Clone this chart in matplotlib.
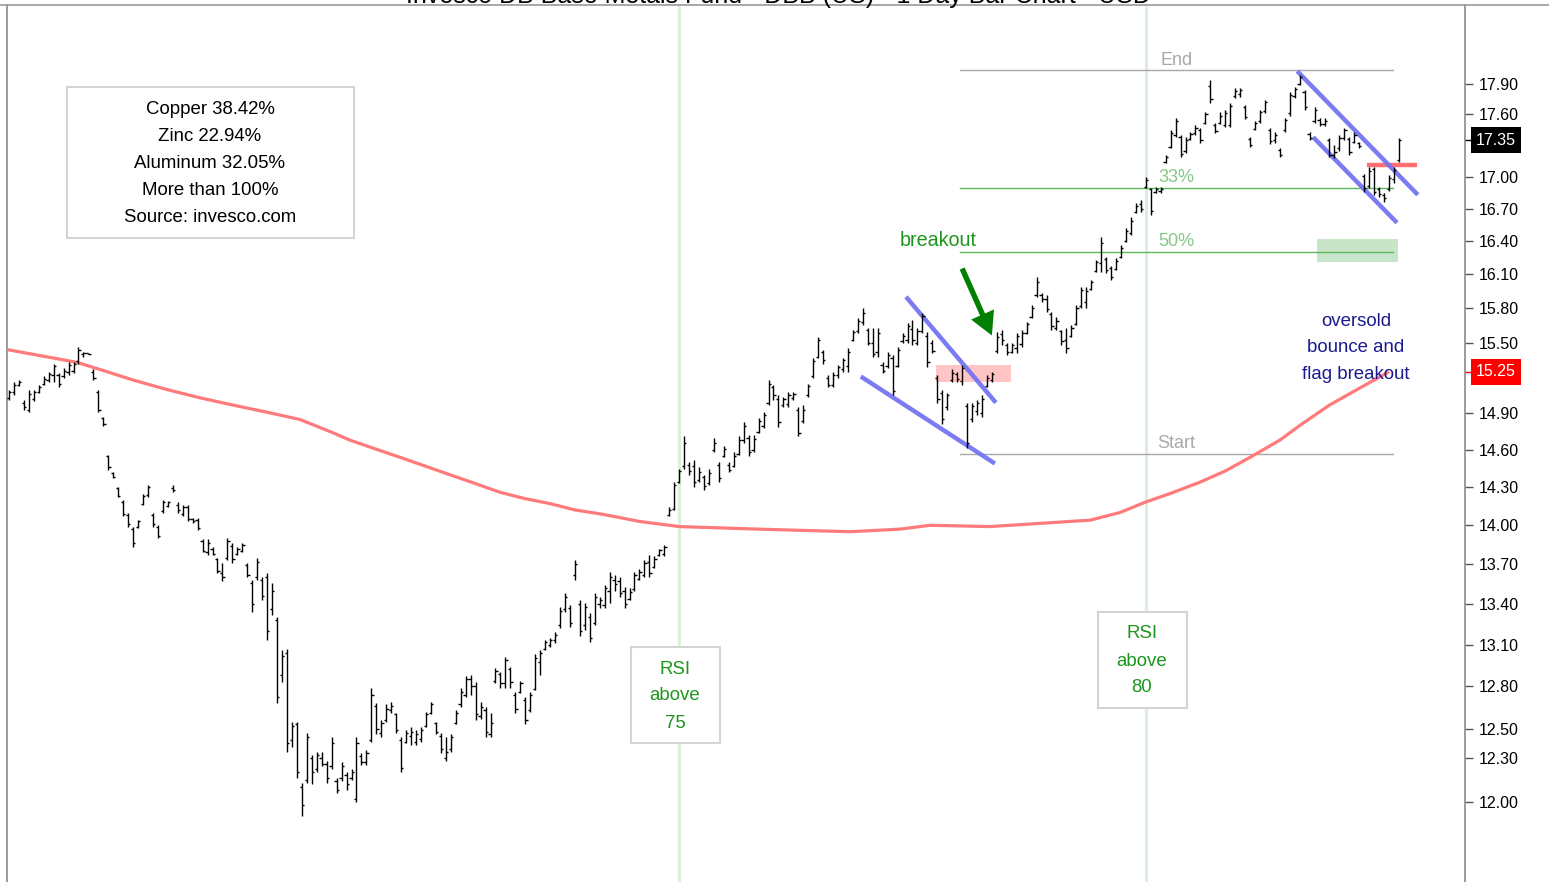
import matplotlib
matplotlib.use("Agg")
import matplotlib.pyplot as plt
from matplotlib.collections import LineCollection
from matplotlib.lines import Line2D
from matplotlib.patches import Rectangle

plt.rcParams["font.family"] = ["Liberation Sans", "DejaVu Sans"]

# daily OHLC for DBB
opens = [
    15.03, 15.08, 15.14, 14.99, 14.93, 15.02, 15.08, 15.15, 15.18, 15.22,
    15.22, 15.21, 15.25, 15.26, 15.34, 15.40, 15.41, 15.25, 15.08, 14.86,
    14.55, 14.41, 14.29, 14.18, 14.08, 13.97, 13.99, 14.17, 14.24, 14.08,
    13.99, 14.11, 14.15, 14.29, 14.16, 14.09, 14.14, 14.05, 14.04, 13.88,
    13.79, 13.82, 13.74, 13.63, 13.75, 13.84, 13.78, 13.80, 13.69, 13.56,
    13.60, 13.58, 13.60, 13.36, 13.28, 12.88, 13.04, 12.42, 12.53, 12.10,
    12.15, 12.30, 12.22, 12.30, 12.26, 12.24, 12.14, 12.16, 12.18, 12.16,
    12.02, 12.31, 12.27, 12.42, 12.66, 12.47, 12.56, 12.63, 12.60, 12.42,
    12.41, 12.45, 12.41, 12.43, 12.52, 12.61, 12.54, 12.45, 12.30, 12.36,
    12.54, 12.67, 12.74, 12.85, 12.80, 12.59, 12.63, 12.46, 12.84, 12.89,
    12.82, 12.92, 12.74, 12.76, 12.70, 12.63, 12.78, 12.97, 13.07, 13.10,
    13.13, 13.24, 13.36, 13.37, 13.62, 13.40, 13.24, 13.30, 13.26, 13.40,
    13.39, 13.50, 13.58, 13.57, 13.50, 13.44, 13.51, 13.59, 13.62, 13.72,
    13.68, 13.77, 13.78, 14.08, 14.13, 14.34, 14.47, 14.48, 14.47, 14.36,
    14.38, 14.33, 14.60, 14.48, 14.55, 14.48, 14.47, 14.57, 14.68, 14.70,
    14.60, 14.75, 14.80, 14.99, 15.12, 15.02, 14.97, 14.98, 15.03, 14.93,
    14.84, 15.05, 15.21, 15.38, 15.42, 15.20, 15.14, 15.22, 15.27, 15.30,
    15.52, 15.60, 15.68, 15.61, 15.50, 15.42, 15.31, 15.30, 15.37, 15.30,
    15.51, 15.52, 15.62, 15.50, 15.60, 15.56, 15.50, 15.20, 15.07, 14.95,
    15.18, 15.23, 15.17, 14.96, 14.85, 14.92, 14.90, 15.13, 15.18, 15.43,
    15.57, 15.48, 15.42, 15.45, 15.49, 15.58, 15.72, 15.92, 15.92, 15.88,
    15.75, 15.63, 15.60, 15.52, 15.56, 15.66, 15.82, 15.85, 15.97, 16.13,
    16.20, 16.24, 16.16, 16.15, 16.26, 16.40, 16.48, 16.67, 16.74, 16.90,
    16.88, 16.86, 16.87, 17.14, 17.28, 17.40, 17.38, 17.25, 17.36, 17.42,
    17.45, 17.52, 17.88, 17.50, 17.52, 17.50, 17.50, 17.78, 17.80, 17.67,
    17.36, 17.46, 17.54, 17.63, 17.45, 17.35, 17.26, 17.45, 17.61, 17.78,
    17.90, 17.82, 17.41, 17.54, 17.55, 17.51, 17.35, 17.21, 17.27, 17.37,
    17.36, 17.33, 17.32, 17.01, 16.91, 17.07, 16.88, 16.83, 16.88, 16.98,
    17.16,
]
highs = [
    15.10, 15.16, 15.18, 15.01, 15.10, 15.10, 15.14, 15.21, 15.25, 15.32,
    15.24, 15.28, 15.33, 15.33, 15.46, 15.42, 15.41, 15.27, 15.10, 14.87,
    14.56, 14.42, 14.30, 14.20, 14.10, 13.99, 14.04, 14.25, 14.32, 14.10,
    14.00, 14.20, 14.19, 14.32, 14.18, 14.16, 14.16, 14.06, 14.06, 13.89,
    13.89, 13.83, 13.75, 13.71, 13.90, 13.86, 13.83, 13.86, 13.71, 13.58,
    13.75, 13.60, 13.63, 13.56, 13.30, 13.06, 13.07, 12.55, 12.55, 12.13,
    12.47, 12.32, 12.34, 12.34, 12.28, 12.44, 12.16, 12.27, 12.20, 12.22,
    12.44, 12.33, 12.35, 12.79, 12.68, 12.56, 12.67, 12.69, 12.61, 12.44,
    12.49, 12.51, 12.49, 12.51, 12.62, 12.69, 12.55, 12.47, 12.44, 12.46,
    12.63, 12.79, 12.87, 12.88, 12.83, 12.69, 12.65, 12.61, 12.93, 12.90,
    13.01, 12.94, 12.76, 12.84, 12.72, 12.76, 13.03, 13.06, 13.13, 13.15,
    13.19, 13.38, 13.48, 13.39, 13.73, 13.43, 13.41, 13.33, 13.48, 13.45,
    13.54, 13.64, 13.62, 13.60, 13.53, 13.52, 13.64, 13.66, 13.73, 13.77,
    13.76, 13.82, 13.85, 14.14, 14.34, 14.45, 14.71, 14.50, 14.52, 14.46,
    14.40, 14.45, 14.70, 14.50, 14.63, 14.50, 14.58, 14.71, 14.83, 14.72,
    14.72, 14.86, 14.91, 15.18, 15.14, 15.05, 15.04, 15.08, 15.08, 14.95,
    14.97, 15.15, 15.37, 15.55, 15.44, 15.22, 15.25, 15.31, 15.37, 15.45,
    15.61, 15.71, 15.80, 15.63, 15.63, 15.63, 15.33, 15.42, 15.39, 15.46,
    15.58, 15.67, 15.70, 15.63, 15.76, 15.59, 15.52, 15.22, 15.10, 15.07,
    15.27, 15.25, 15.31, 14.99, 14.99, 15.01, 15.05, 15.22, 15.25, 15.59,
    15.61, 15.50, 15.50, 15.58, 15.61, 15.68, 15.83, 16.08, 15.93, 15.92,
    15.77, 15.72, 15.61, 15.63, 15.65, 15.83, 15.99, 15.99, 16.05, 16.23,
    16.44, 16.26, 16.18, 16.25, 16.37, 16.52, 16.62, 16.75, 16.78, 17.00,
    16.89, 16.90, 16.90, 17.21, 17.45, 17.57, 17.40, 17.38, 17.43, 17.50,
    17.47, 17.62, 17.94, 17.52, 17.62, 17.64, 17.71, 17.86, 17.86, 17.69,
    17.38, 17.54, 17.64, 17.74, 17.47, 17.43, 17.27, 17.57, 17.82, 17.87,
    17.99, 17.84, 17.43, 17.67, 17.57, 17.57, 17.37, 17.30, 17.40, 17.47,
    17.38, 17.43, 17.33, 17.03, 17.09, 17.09, 16.90, 16.85, 17.02, 17.09,
    17.37,
]
lows = [
    15.01, 15.05, 15.13, 14.93, 14.91, 15.00, 15.07, 15.14, 15.16, 15.16,
    15.12, 15.20, 15.22, 15.24, 15.32, 15.38, 15.40, 15.18, 14.91, 14.80,
    14.44, 14.37, 14.22, 14.07, 13.99, 13.83, 13.98, 14.16, 14.22, 13.99,
    13.90, 14.10, 14.14, 14.26, 14.10, 14.07, 14.03, 14.02, 13.96, 13.79,
    13.77, 13.77, 13.63, 13.57, 13.73, 13.71, 13.77, 13.79, 13.60, 13.34,
    13.58, 13.43, 13.13, 13.32, 12.68, 12.83, 12.34, 12.37, 12.16, 11.91,
    12.13, 12.12, 12.20, 12.24, 12.13, 12.22, 12.06, 12.14, 12.08, 12.15,
    12.00, 12.25, 12.25, 12.41, 12.46, 12.44, 12.55, 12.61, 12.47, 12.20,
    12.40, 12.39, 12.39, 12.41, 12.51, 12.60, 12.46, 12.33, 12.28, 12.34,
    12.53, 12.65, 12.72, 12.74, 12.56, 12.57, 12.44, 12.44, 12.82, 12.79,
    12.79, 12.79, 12.61, 12.75, 12.53, 12.62, 12.77, 12.88, 13.06, 13.08,
    13.11, 13.22, 13.34, 13.23, 13.58, 13.16, 13.21, 13.12, 13.24, 13.37,
    13.37, 13.41, 13.50, 13.45, 13.37, 13.43, 13.50, 13.58, 13.60, 13.60,
    13.67, 13.76, 13.76, 14.07, 14.12, 14.33, 14.45, 14.40, 14.30, 14.34,
    14.28, 14.32, 14.58, 14.34, 14.54, 14.42, 14.46, 14.56, 14.66, 14.55,
    14.58, 14.74, 14.78, 14.97, 15.01, 14.79, 14.95, 14.95, 15.01, 14.71,
    14.82, 15.04, 15.20, 15.37, 15.32, 15.12, 15.12, 15.20, 15.25, 15.25,
    15.51, 15.58, 15.65, 15.48, 15.38, 15.38, 15.24, 15.28, 15.05, 15.29,
    15.50, 15.50, 15.48, 15.48, 15.58, 15.29, 15.41, 14.99, 14.81, 14.93,
    15.16, 15.16, 15.14, 14.62, 14.83, 14.89, 14.87, 15.12, 15.16, 15.41,
    15.48, 15.39, 15.41, 15.41, 15.46, 15.57, 15.71, 15.90, 15.85, 15.77,
    15.61, 15.61, 15.48, 15.41, 15.55, 15.65, 15.80, 15.80, 15.96, 16.12,
    16.12, 16.11, 16.05, 16.14, 16.25, 16.39, 16.46, 16.66, 16.67, 16.89,
    16.64, 16.85, 16.85, 17.13, 17.27, 17.38, 17.19, 17.23, 17.35, 17.40,
    17.32, 17.51, 17.71, 17.42, 17.51, 17.48, 17.48, 17.76, 17.77, 17.56,
    17.28, 17.45, 17.52, 17.61, 17.31, 17.32, 17.19, 17.43, 17.59, 17.76,
    17.89, 17.64, 17.35, 17.52, 17.49, 17.49, 17.19, 17.18, 17.25, 17.35,
    17.21, 17.32, 17.27, 16.86, 16.89, 16.83, 16.81, 16.76, 16.87, 16.94,
    17.14,
]
closes = [
    15.08, 15.14, 15.16, 14.95, 15.06, 15.08, 15.12, 15.19, 15.23, 15.30,
    15.15, 15.26, 15.31, 15.32, 15.44, 15.41, 15.40, 15.20, 14.93, 14.81,
    14.46, 14.38, 14.23, 14.09, 14.01, 13.86, 14.03, 14.23, 14.30, 14.01,
    13.92, 14.18, 14.18, 14.28, 14.12, 14.14, 14.05, 14.03, 13.98, 13.80,
    13.86, 13.78, 13.65, 13.60, 13.88, 13.74, 13.82, 13.85, 13.62, 13.40,
    13.72, 13.46, 13.20, 13.50, 12.72, 13.02, 12.40, 12.52, 12.20, 11.98,
    12.44, 12.20, 12.32, 12.26, 12.16, 12.40, 12.08, 12.24, 12.12, 12.20,
    12.40, 12.27, 12.33, 12.74, 12.50, 12.54, 12.64, 12.66, 12.49, 12.23,
    12.47, 12.48, 12.46, 12.49, 12.60, 12.67, 12.48, 12.36, 12.34, 12.44,
    12.61, 12.76, 12.85, 12.80, 12.60, 12.65, 12.48, 12.54, 12.91, 12.82,
    12.99, 12.83, 12.64, 12.82, 12.56, 12.74, 13.00, 13.04, 13.12, 13.13,
    13.17, 13.35, 13.45, 13.26, 13.70, 13.20, 13.38, 13.15, 13.45, 13.43,
    13.52, 13.60, 13.55, 13.48, 13.40, 13.49, 13.62, 13.64, 13.71, 13.63,
    13.74, 13.81, 13.83, 14.12, 14.32, 14.43, 14.66, 14.43, 14.34, 14.42,
    14.31, 14.41, 14.66, 14.37, 14.61, 14.44, 14.55, 14.68, 14.80, 14.58,
    14.69, 14.84, 14.89, 15.15, 15.05, 14.83, 15.02, 15.05, 15.06, 14.74,
    14.93, 15.13, 15.34, 15.52, 15.35, 15.14, 15.22, 15.29, 15.35, 15.42,
    15.59, 15.69, 15.76, 15.50, 15.40, 15.58, 15.26, 15.39, 15.09, 15.44,
    15.56, 15.64, 15.52, 15.60, 15.73, 15.33, 15.43, 15.02, 14.85, 15.05,
    15.24, 15.19, 15.28, 14.66, 14.96, 14.99, 15.02, 15.20, 15.23, 15.55,
    15.52, 15.42, 15.48, 15.56, 15.58, 15.66, 15.80, 16.03, 15.88, 15.79,
    15.64, 15.69, 15.51, 15.45, 15.63, 15.80, 15.96, 15.95, 16.03, 16.21,
    16.38, 16.14, 16.08, 16.22, 16.34, 16.49, 16.59, 16.73, 16.70, 16.97,
    16.68, 16.88, 16.88, 17.19, 17.42, 17.54, 17.22, 17.35, 17.41, 17.47,
    17.35, 17.60, 17.75, 17.44, 17.59, 17.61, 17.68, 17.83, 17.84, 17.58,
    17.30, 17.52, 17.62, 17.72, 17.34, 17.40, 17.21, 17.55, 17.79, 17.85,
    17.97, 17.67, 17.37, 17.64, 17.51, 17.54, 17.21, 17.24, 17.37, 17.45,
    17.24, 17.40, 17.29, 16.89, 17.05, 16.86, 16.84, 16.80, 16.99, 17.06,
    17.35,
]

# 200-day moving average, sampled along the bars
ma_idx = [-0.4, 13.7, 18.3, 25, 31.8, 38.5, 45.1, 52, 58.6, 64.7, 68.7, 73.7,
          78.8, 83.8, 88.8, 93.9, 98.9, 103.9, 109, 114, 119, 123.1, 127, 135,
          151, 169.4, 179.5, 185.5, 197.6, 209.7, 217.8, 223.8, 228.8, 233.9,
          239.9, 245, 250, 256, 260, 266, 272, 278]
ma_val = [15.44, 15.33, 15.27, 15.18, 15.10, 15.03, 14.97, 14.91, 14.85, 14.75,
          14.68, 14.61, 14.54, 14.47, 14.40, 14.33, 14.26, 14.21, 14.17, 14.12,
          14.09, 14.06, 14.03, 13.99, 13.97, 13.95, 13.97, 14.00, 13.99, 14.02,
          14.04, 14.10, 14.18, 14.25, 14.34, 14.43, 14.54, 14.68, 14.80, 14.97,
          15.11, 15.25]

rsi_days = [135, 229]
rsi_labels = [["RSI", "above", "75"], ["RSI", "above", "80"]]

fib_start = 14.57
fib_end = 18.04
fib_names = ["End", "33%", "50%", "Start"]
fib_pcts = [0.0, 0.33, 0.50, 1.0]

# trend channels: (day, price) -> (day, price)
flag_lines = [
    ((180.7, 15.90), (198.8, 14.99)),
    ((171.6, 15.21), (198.6, 14.49)),
    ((259.5, 18.03), (283.8, 16.83)),
    ((262.7, 17.38), (279.6, 16.57)),
]

price_ticks = [12.00, 12.30, 12.50, 12.80, 13.10, 13.40, 13.70, 14.00, 14.30,
               14.60, 14.90, 15.50, 15.80, 16.10, 16.40, 16.70, 17.00, 17.60, 17.90]

holdings = ["Copper 38.42%", "Zinc 22.94%", "Aluminum 32.05%",
            "More than 100%", "Source: invesco.com"]

W, H = 1549, 882


def fxy(px, py):
    return px / W, 1 - py / H


fig = plt.figure(figsize=(W / 100, H / 100), dpi=100)
ax = fig.add_axes([7 / W, 0, (1465 - 7) / W, (H - 5) / H])
ax.set_yscale("log")
ax.set_xlim(-0.4, 293.3)
ax.set_ylim(11.477, 18.707)

# OHLC bars
segs = []
for i, (o, h, l, c) in enumerate(zip(opens, highs, lows, closes)):
    segs.append([(i, l), (i, h)])
    segs.append([(i - 0.45, o), (i, o)])
    segs.append([(i, c), (i + 0.45, c)])
ax.add_collection(LineCollection(segs, colors="black", linewidths=1.0, zorder=4))

ax.plot(ma_idx, ma_val, color="#ff7a7a", lw=2.3, zorder=3,
        solid_capstyle="butt", solid_joinstyle="round")

for d in rsi_days:
    ax.axvline(d, color="#dcefdc", lw=2.2, zorder=0)

# retracement levels
for name, pct in zip(fib_names, fib_pcts):
    lvl = fib_end - pct * (fib_end - fib_start)
    green = name.endswith("%")
    lc = "#5cb85c" if green else "#a8a8a8"
    tc = "#85c785" if green else "#a8a8a8"
    ax.plot([191.6, 278.8], [lvl, lvl], color=lc, lw=1.0, zorder=2)
    ax.annotate(name, (235.1, lvl), xytext=(0, 4), textcoords="offset points",
                ha="center", va="baseline", fontsize=13, color=tc)

ax.add_patch(Rectangle((186.7, 15.16), 15.2, 0.15, facecolor="#ffc4c4",
                       edgecolor="none", zorder=1))
ax.add_patch(Rectangle((263.5, 16.21), 16.3, 0.21, facecolor="#c9e5c9",
                       edgecolor="none", zorder=1))
ax.plot([273.6, 283.6], [17.11, 17.11], color="#ff6f6f", lw=3.2,
        solid_capstyle="butt", zorder=3, clip_on=False)

for (x0, y0), (x1, y1) in flag_lines:
    ax.plot([x0, x1], [y0, y1], color="#7474f2", lw=3.2, alpha=0.95,
            solid_capstyle="butt", zorder=3)

# axes styling
for side in ("top", "bottom"):
    ax.spines[side].set_visible(False)
for side in ("left", "right"):
    ax.spines[side].set_color("#8a8a8a")
    ax.spines[side].set_linewidth(1.2)
ax.set_xticks([])
ax.yaxis.set_major_locator(matplotlib.ticker.FixedLocator(price_ticks))
ax.yaxis.set_minor_locator(matplotlib.ticker.NullLocator())
ax.yaxis.set_major_formatter(matplotlib.ticker.FuncFormatter(lambda v, p: f"{v:.2f}"))
ax.tick_params(axis="y", left=False, labelleft=False, right=True, labelright=True,
               direction="out", length=6, width=1, color="#555555", pad=4,
               labelsize=11.5)

ytr = ax.get_yaxis_transform()
last_close = closes[-1]
last_ma = ma_val[-1]
for val, bg in ((last_close, "black"), (last_ma, "#ff0000")):
    ax.plot([1.0, 1.004], [val, val], color=bg, lw=1, transform=ytr, clip_on=False)
    ax.text((1476 - 7) / 1458, val, f"{val:.2f}", transform=ytr, ha="left",
            va="center", fontsize=11.5, color="white",
            bbox=dict(boxstyle="square,pad=0.33", fc=bg, ec="none"))

# frame line across the top
fig.add_artist(Line2D([0, 1], [1 - 5 / H] * 2, transform=fig.transFigure,
                      color="#9a9a9a", lw=1.2))
fig.text(778 / W, 1 - 3 / H,
         "Invesco DB Base Metals Fund - DBB (US) - 1 Day Bar Chart - USD",
         ha="center", va="baseline", fontsize=18)

# holdings box
x0, y0 = fxy(67, 238)
fig.add_artist(Rectangle((x0, y0), 287 / W, 151 / H, transform=fig.transFigure,
                         facecolor="white", edgecolor="#d4d4d4", lw=1.5, zorder=5))
for k, line in enumerate(holdings):
    fig.text(*fxy(210, 109 + 27.2 * k), line, ha="center", va="center",
             fontsize=13.4, zorder=6)

# RSI boxes
for (bx, by), lines in zip([(631, 647), (1098, 612)], rsi_labels):
    x0, y0 = fxy(bx, by + 96)
    fig.add_artist(Rectangle((x0, y0), 89 / W, 96 / H, transform=fig.transFigure,
                             facecolor="white", edgecolor="#d4d4d4", lw=1.5, zorder=5))
    for k, line in enumerate(lines):
        fig.text(*fxy(bx + 44, by + 22 + 27 * k), line, ha="center", va="center",
                 fontsize=13.4, color="#1c961c", zorder=6)

fig.text(*fxy(938, 240), "breakout", ha="center", va="center",
         fontsize=14.2, color="#1c961c")
ax.annotate("", xy=(993, H - 338), xytext=(961, H - 266),
            xycoords="figure pixels", textcoords="figure pixels",
            arrowprops=dict(arrowstyle="simple,head_length=0.55,head_width=0.6,tail_width=0.13",
                            mutation_scale=30, color="#007f00", lw=0))

for k, line in enumerate(["oversold", "bounce and", "flag breakout"]):
    fig.text(*fxy(1356, 321 + 27 * k), line, ha="center", va="center",
             fontsize=13.4, color="#1a1a8c")

fig.savefig("out.png", dpi=100)
